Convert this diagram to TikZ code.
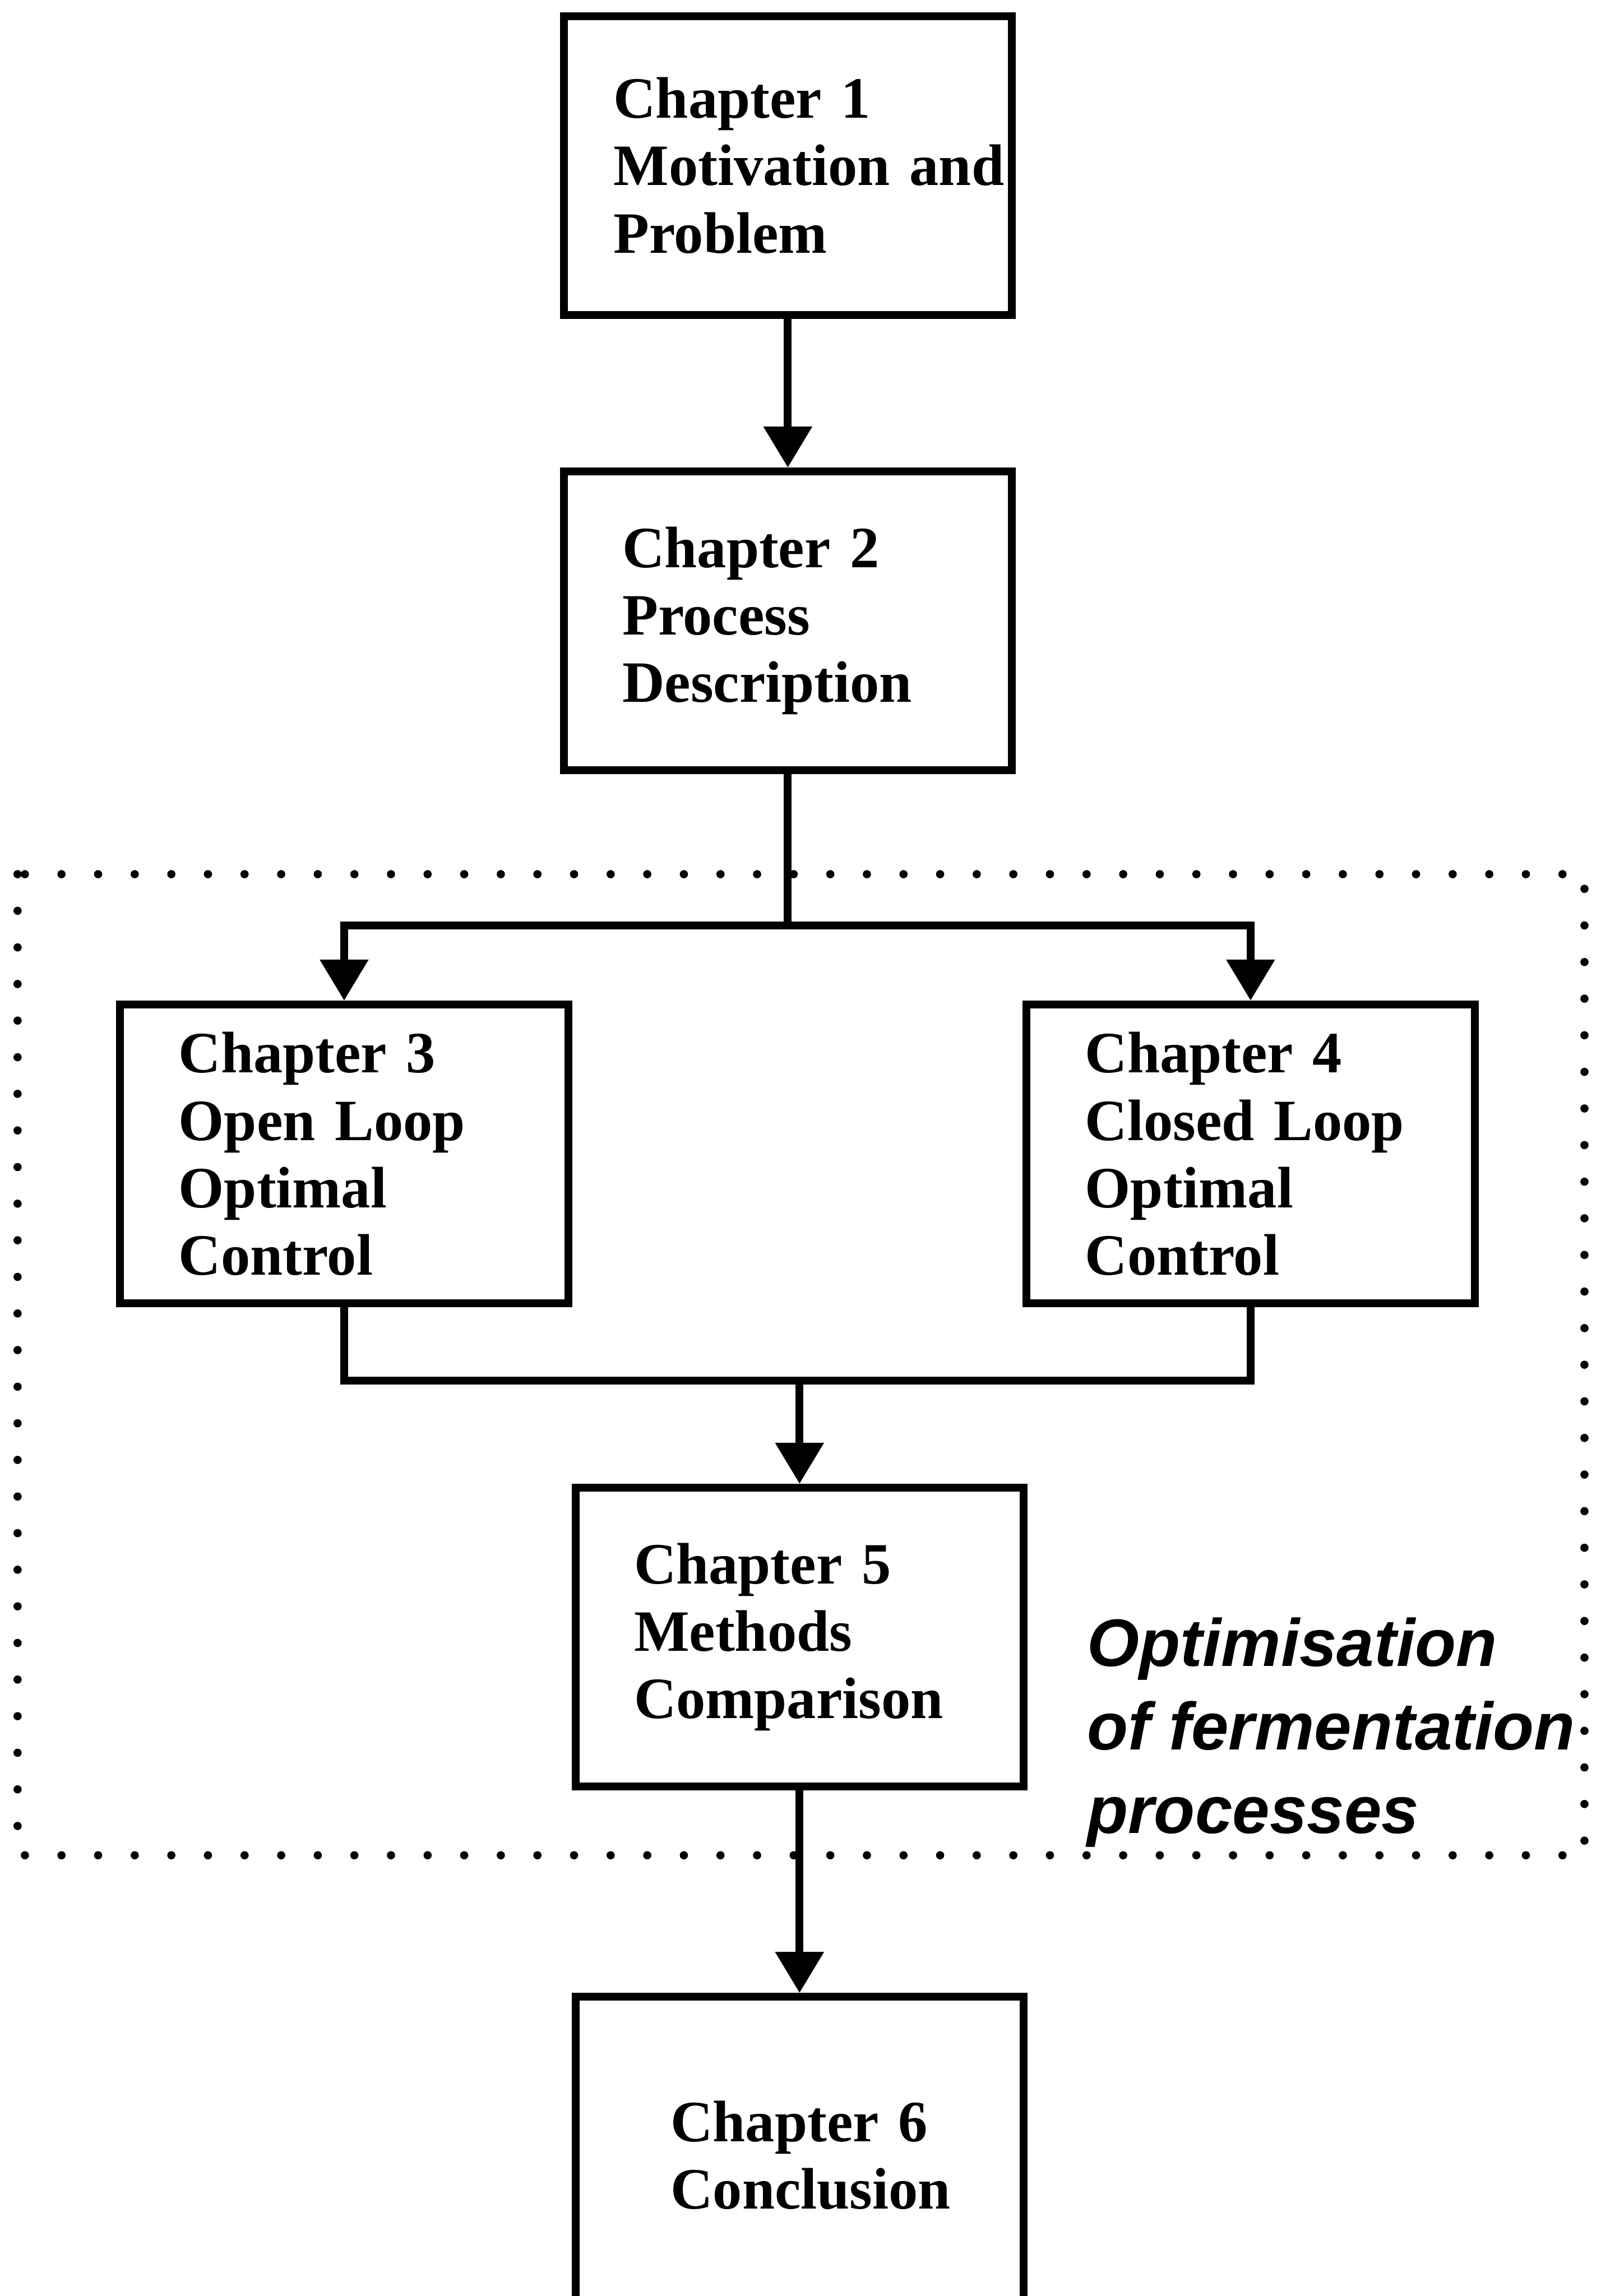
\documentclass[tikz,border=0pt]{standalone}
\usepackage{fontspec}
\setmainfont{Liberation Serif}
\newfontfamily\Lblfont{Liberation Sans}
\usetikzlibrary{arrows.meta, positioning}
\newcommand\Lw{2.7pt}

\begin{document}
\begin{tikzpicture}[x = 0.5pt, y = -0.5pt,
    chap/.style = {draw, line width = \Lw, minimum width = 153pt, minimum height = 102pt,
                   inner xsep = 0pt, text width = 113pt, align = left,
                   font = \fontsize{20}{23}\selectfont\bfseries},
    arr/.style = {line width = \Lw, -{Triangle[width = 16pt, length = 14pt]}},
    dotframe/.style = {line width = 2.8pt, line cap = round, dash pattern = on 0pt off 12.5pt},
    lbl/.style = {inner sep = 0pt, align = left,
                  font = \Lblfont\fontsize{22.9}{28.5}\selectfont\bfseries\itshape}]
                \useasboundingbox (0,0) rectangle (1093,1568);

                \draw [dotframe] (12,597) rectangle (1082,1267);

                \node [chap, text width = 119pt] (ch1) at (538,113) {Chapter 1\\Motivation~and\\Problem};
                \node [chap] (ch2) at (538,424) {Chapter 2\\Process\\Description};
                \node [chap] (ch3) at (235,788) {Chapter 3\\Open Loop\\Optimal\\Control};
                \node [chap] (ch4) at (854,788) {Chapter 4\\Closed Loop\\Optimal\\Control};
                \node [chap] (ch5) at (546,1118) {Chapter 5\\Methods\\Comparison};
                \node [chap, text width = 88pt, minimum height = 108pt, anchor = north] (ch6) at (546,1361) {Chapter 6\\\mbox{Conclusion}};

                \node [lbl, anchor = base west] (optim) at (742,1252) {Optimisation\\of fermentation\\processes};

                \coordinate (split) at (ch2.south |- 0,632);
                \coordinate (join) at (ch5.north |- 0,943);

                \draw [arr] (ch1) -- (ch2);
                \draw [line width = \Lw] (ch2) -- (split);
                \foreach \n in {ch3, ch4}{
                  \draw [arr] (split) -| (\n);
                }
                \draw [line width = \Lw] (ch3) |- (join) -| (ch4);
                \draw [arr] (join) -- (ch5);
                \draw [arr] (ch5) -- (ch6);
\end{tikzpicture}
\end{document}
